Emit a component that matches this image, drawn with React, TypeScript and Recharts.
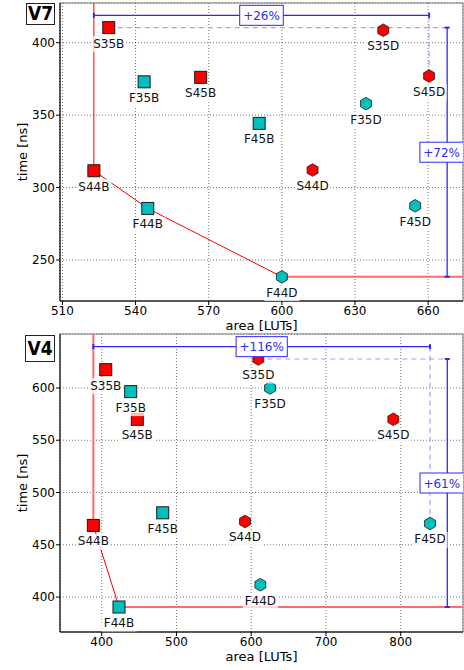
import { ScatterChart, Scatter, XAxis, YAxis, CartesianGrid, ReferenceArea } from "recharts";

const FONT = "'DejaVu Sans', 'Liberation Sans', sans-serif";
const RED = "#ff0000";
const PINK = "#ff6a6a";
const CYAN = "#00bfbf";
const BLUE = "#2a2aff";
const LIGHT_BLUE = "#a0a0ff";

// V7 designs
const v7Names = ["S35B", "F35B", "S45B", "F45B", "S44B", "F44B", "S35D", "S45D", "F35D", "S44D", "F45D", "F44D"];
const v7Area = [529, 543.5, 566.7, 590.7, 522.9, 545, 641.6, 660.4, 634.5, 612.6, 654.7, 600];
const v7Time = [410.4, 373, 376.1, 344.3, 311.6, 285.6, 408.6, 377, 357.9, 312.1, 287.4, 238.4];
const v7Frontier = ["S44B", "F44B", "F44D"];
const v7Gains = ["+26%", "+72%"];
const v7AreaTicks = [510, 540, 570, 600, 630, 660];
const v7TimeTicks = [250, 300, 350, 400];

// V4 designs
const v4Names = ["S35B", "F35B", "S45B", "F45B", "S44B", "F44B", "S35D", "S45D", "F35D", "S44D", "F45D", "F44D"];
const v4Area = [405.4, 438.8, 447.6, 481.6, 388.8, 423.1, 609.5, 790.1, 625.2, 591.7, 839.2, 612.2];
const v4Time = [617.5, 596.5, 570, 480.6, 468.5, 390.5, 627.7, 570, 600, 472.3, 470.4, 411.8];
const v4Frontier = ["S44B", "F44B"];
const v4Gains = ["+116%", "+61%"];
const v4AreaTicks = [400, 500, 600, 700, 800];
const v4TimeTicks = [400, 450, 500, 550, 600];

type Pt = { name: string; x: number; y: number; label?: string };

function textWidth(s: string) {
  let w = 0;
  for (const c of s) w += c === "+" ? 10 : c === "%" ? 11.4 : 7.6;
  return w;
}

const Marker = (p: any) => {
  const { cx, cy, payload } = p;
  const fill = payload.name[0] === "S" ? RED : CYAN;
  if (payload.name.endsWith("B")) {
    return <rect x={cx - 6} y={cy - 6} width={12} height={12} fill={fill} stroke="#1a1a1a" strokeWidth={1} />;
  }
  const r = 6.3;
  const pts = [0, 1, 2, 3, 4, 5]
    .map((i) => {
      const a = (Math.PI / 180) * (60 * i - 90);
      return `${cx + r * Math.cos(a)},${cy + r * Math.sin(a)}`;
    })
    .join(" ");
  return <polygon points={pts} fill={fill} stroke="#1a1a1a" strokeWidth={0.8} />;
};

const NameLabel = (p: any) => {
  const { cx, cy, payload } = p;
  const w = payload.name.length * 7.8 + 4;
  return (
    <g>
      <rect x={cx - w / 2} y={cy + 8.5} width={w} height={16} fill="#fff" fillOpacity={0.75} />
      <text x={cx} y={cy + 20} textAnchor="middle" fontSize={12} fontFamily={FONT} fill="#111">
        {payload.name}
      </text>
    </g>
  );
};

const VCap = (p: any) => <line x1={p.cx} x2={p.cx} y1={p.cy - 2.5} y2={p.cy + 2.5} stroke={BLUE} strokeWidth={2} />;
const HCap = (p: any) => <line x1={p.cx - 2.5} x2={p.cx + 2.5} y1={p.cy} y2={p.cy} stroke={BLUE} strokeWidth={2} />;
const Nothing = () => <g />;

const gainBox = (dx: number) => (p: any) => {
  const { cx, cy, payload } = p;
  const w = textWidth(payload.label) + 7;
  const x = cx + dx;
  return (
    <g>
      <rect x={x - w / 2} y={cy - 10} width={w} height={20} fill="#fff" stroke={BLUE} strokeWidth={1} />
      <text x={x} y={cy + 4.5} textAnchor="middle" fontSize={12} fontFamily={FONT} fill={BLUE}>
        {payload.label}
      </text>
    </g>
  );
};

const tickStyle = { fontSize: 12, fill: "#000", fontFamily: FONT };

function Panel(props: {
  title: string;
  names: string[];
  area: number[];
  time: number[];
  frontier: string[];
  gains: string[];
  xTicks: number[];
  yTicks: number[];
  xDomain: [number, number];
  yDomain: [number, number];
  arrowY: number;
  arrowX: number;
  thinVertical: boolean;
  top: number;
  height: number;
  margin: { top: number; right: number; bottom: number; left: number };
  titleBox: { left: number; top: number; width: number; height: number };
}) {
  const pts: Pt[] = props.names.map((name, i) => ({ name, x: props.area[i], y: props.time[i] }));
  const byName = (n: string) => pts.find((p) => p.name === n)!;
  const front = props.frontier.map(byName);
  const first = front[0];
  const last = front[front.length - 1];
  const [x0, x1] = props.xDomain;
  const [y0, y1] = props.yDomain;

  const minArea = pts.reduce((a, b) => (b.x < a.x ? b : a));
  const maxArea = pts.reduce((a, b) => (b.x > a.x ? b : a));
  const maxTime = pts.reduce((a, b) => (b.y > a.y ? b : a));
  const minTime = pts.reduce((a, b) => (b.y < a.y ? b : a));

  const areaArrow = [
    { x: minArea.x, y: props.arrowY },
    { x: maxArea.x, y: props.arrowY },
  ];
  const areaGuide = [
    { x: maxArea.x, y: props.arrowY },
    { x: maxArea.x, y: maxArea.y },
  ];
  const timeArrow = [
    { x: props.arrowX, y: maxTime.y },
    { x: props.arrowX, y: minTime.y },
  ];
  const timeGuide = [
    { x: maxTime.x, y: maxTime.y },
    { x: props.arrowX, y: maxTime.y },
  ];
  const areaLabel = [{ x: (minArea.x + maxArea.x) / 2, y: props.arrowY, label: props.gains[0] }];
  const timeLabel = [{ x: props.arrowX, y: (maxTime.y + minTime.y) / 2, label: props.gains[1] }];

  return (
    <div style={{ position: "absolute", left: 0, top: props.top, width: 464, height: props.height }}>
      <ScatterChart width={464} height={props.height} margin={props.margin}>
        <CartesianGrid stroke="#000" strokeOpacity={0.55} strokeDasharray="1 2" />
        <ReferenceArea x1={x0} x2={x1} y1={y0} y2={y1} fill="none" stroke="#777" strokeWidth={1} ifOverflow="visible" />
        <XAxis
          type="number"
          dataKey="x"
          domain={props.xDomain}
          ticks={props.xTicks}
          allowDataOverflow
          height={29}
          tickSize={4}
          tickMargin={1}
          tick={tickStyle}
          stroke="#000"
          label={{ value: "area [LUTs]", position: "insideBottom", offset: 0, fontSize: 13, fill: "#000", fontFamily: FONT }}
        />
        <YAxis
          type="number"
          dataKey="y"
          domain={props.yDomain}
          ticks={props.yTicks}
          allowDataOverflow
          width={60}
          tickSize={4}
          tickMargin={1}
          tick={tickStyle}
          stroke="#000"
          label={{
            content: (lp: any) => {
              const vb = lp.viewBox;
              const cy = vb.y + vb.height / 2;
              return (
                <text x={26.5} y={cy} transform={`rotate(-90 26.5 ${cy})`} textAnchor="middle" fontSize={13} fontFamily={FONT} fill="#000">
                  time [ns]
                </text>
              );
            },
          }}
        />
        <Scatter
          data={[{ x: first.x, y: y1 }, first]}
          line={{ stroke: props.thinVertical ? RED : PINK, strokeWidth: props.thinVertical ? 1 : 2 }}
          shape={Nothing}
          isAnimationActive={false}
        />
        <Scatter data={front} line={{ stroke: RED, strokeWidth: 1 }} shape={Nothing} isAnimationActive={false} />
        <Scatter data={[last, { x: x1, y: last.y }]} line={{ stroke: PINK, strokeWidth: 2 }} shape={Nothing} isAnimationActive={false} />
        <Scatter data={areaGuide} line={{ stroke: LIGHT_BLUE, strokeWidth: 1.2, strokeDasharray: "5 4" }} shape={Nothing} isAnimationActive={false} />
        <Scatter data={timeGuide} line={{ stroke: LIGHT_BLUE, strokeWidth: 1.2, strokeDasharray: "5 4" }} shape={Nothing} isAnimationActive={false} />
        <Scatter data={areaArrow} line={{ stroke: BLUE, strokeWidth: 1.3 }} shape={VCap} isAnimationActive={false} />
        <Scatter data={timeArrow} line={{ stroke: BLUE, strokeWidth: 1.3 }} shape={HCap} isAnimationActive={false} />
        <Scatter data={pts} shape={Marker} isAnimationActive={false} />
        <Scatter data={pts} shape={NameLabel} isAnimationActive={false} />
        <Scatter data={areaLabel} shape={gainBox(0)} isAnimationActive={false} />
        <Scatter data={timeLabel} shape={gainBox(-5.5)} isAnimationActive={false} />
      </ScatterChart>
      <div
        style={{
          position: "absolute",
          left: props.titleBox.left,
          top: props.titleBox.top,
          width: props.titleBox.width,
          height: props.titleBox.height,
          boxSizing: "border-box",
          border: "1.5px solid #222",
          background: "#fff",
          fontFamily: "'DejaVu Sans Condensed', 'DejaVu Sans', sans-serif",
          fontWeight: "bold",
          fontSize: 19,
          lineHeight: `${props.titleBox.height - 3}px`,
          textAlign: "center",
          color: "#000",
        }}
      >
        {props.title}
      </div>
    </div>
  );
}

export default function App() {
  return (
    <div style={{ position: "absolute", left: 0, top: 0, width: 464, height: 670, background: "#fff", overflow: "hidden" }}>
      <Panel
        title="V7"
        names={v7Names}
        area={v7Area}
        time={v7Time}
        frontier={v7Frontier}
        gains={v7Gains}
        xTicks={v7AreaTicks}
        yTicks={v7TimeTicks}
        xDomain={[509, 674.3]}
        yDomain={[221.7, 427.4]}
        arrowY={418.9}
        arrowX={667.8}
        thinVertical={true}
        top={0}
        height={335}
        margin={{ top: 3, right: 1, bottom: 5, left: 0 }}
        titleBox={{ left: 26, top: 3, width: 29, height: 22 }}
      />
      <Panel
        title="V4"
        names={v4Names}
        area={v4Area}
        time={v4Time}
        frontier={v4Frontier}
        gains={v4Gains}
        xTicks={v4AreaTicks}
        yTicks={v4TimeTicks}
        xDomain={[344.2, 883.3]}
        yDomain={[366.6, 651.6]}
        arrowY={639.5}
        arrowX={862.3}
        thinVertical={false}
        top={331}
        height={339}
        margin={{ top: 3, right: 1, bottom: 9, left: 0 }}
        titleBox={{ left: 25, top: 4, width: 30, height: 27 }}
      />
    </div>
  );
}
